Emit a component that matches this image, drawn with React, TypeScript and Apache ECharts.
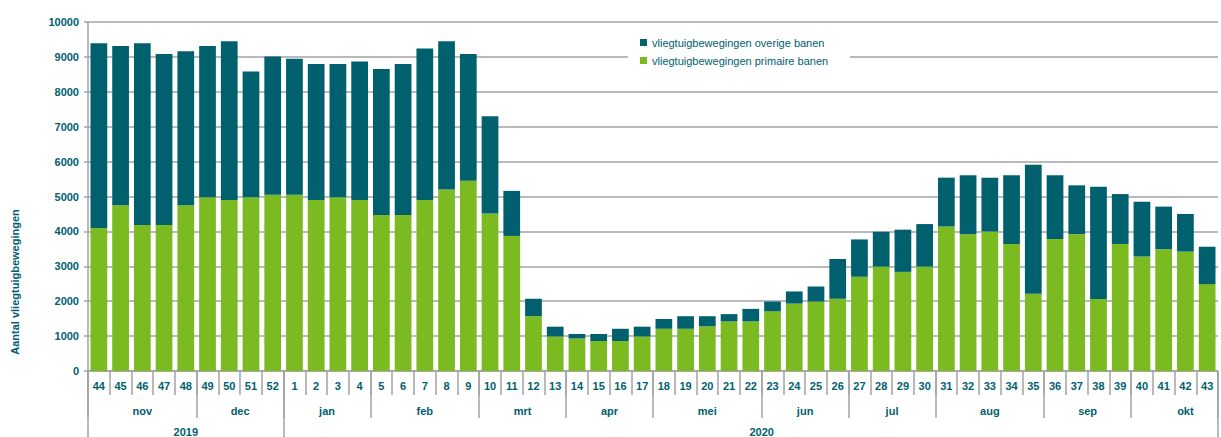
import React, { useEffect, useRef } from "react";
import * as echarts from "echarts";

const weeks = [
  "44", "45", "46", "47", "48", "49", "50", "51", "52",
  "1", "2", "3", "4", "5", "6", "7", "8", "9", "10",
  "11", "12", "13", "14", "15", "16", "17", "18", "19", "20",
  "21", "22", "23", "24", "25", "26", "27", "28", "29", "30",
  "31", "32", "33", "34", "35", "36", "37", "38", "39", "40",
  "41", "42", "43",
];

const primaire = [
  4100, 4750, 4180, 4180, 4750, 4980, 4900, 4980, 5050,
  5050, 4900, 4980, 4900, 4470, 4470, 4900, 5200, 5450, 4510,
  3870, 1570, 990, 930, 860, 860, 990, 1210, 1210, 1280,
  1420, 1420, 1710, 1930, 1990, 2070, 2700, 2990, 2840, 2990,
  4140, 3920, 4000, 3640, 2210, 3780, 3920, 2060, 3640, 3280,
  3490, 3420, 2490,
];

const overige = [
  5290, 4560, 5210, 4900, 4410, 4330, 4550, 3600, 3960,
  3900, 3900, 3820, 3970, 4180, 4330, 4340, 4250, 3630, 2790,
  1290, 500, 280, 130, 200, 350, 280, 280, 360, 290,
  210, 360, 280, 350, 430, 1140, 1070, 1000, 1210, 1220,
  1400, 1690, 1540, 1970, 3700, 1830, 1400, 3220, 1430, 1570,
  1220, 1080, 1070,
];

const monthNames = ["nov", "dec", "jan", "feb", "mrt", "apr", "mei", "jun", "jul", "aug", "sep", "okt"];
const monthWeeks = [5, 4, 4, 5, 4, 4, 5, 4, 4, 5, 4, 5];

const yearNames = ["2019", "2020"];
const yearWeeks = [9, 44];

const yTicks = [0, 1000, 2000, 3000, 4000, 5000, 6000, 7000, 8000, 9000, 10000];

const seriesNames = ["vliegtuigbewegingen primaire banen", "vliegtuigbewegingen overige banen"];

const TEAL = "#00606E";
const GREEN = "#7BBB21";
const GRID = "#a3a3a3";
const FONT = "'Liberation Sans', Arial, sans-serif";

function buildSpans(names: string[], counts: number[]) {
  const centers: Record<string, string> = {};
  const starts: number[] = [];
  let s = 0;
  names.forEach((n, i) => {
    starts.push(s);
    centers[String(s + counts[i] / 2)] = n;
    s += counts[i];
  });
  return { centers, starts };
}

export default function App() {
  const ref = useRef<HTMLDivElement>(null);

  useEffect(() => {
    if (!ref.current) return;
    const chart = echarts.init(ref.current, null, { renderer: "svg" });
    const months = buildSpans(monthNames, monthWeeks);
    const years = buildSpans(yearNames, yearWeeks);
    const n = weeks.length;

    const labelStyle = { color: TEAL, fontFamily: FONT, fontWeight: "bold" as const, fontSize: 11 };

    const option: any = {
      animation: false,
      backgroundColor: "#ffffff",
      grid: { left: 88, top: 22, width: 1138, height: 349 },
      legend: {
        orient: "vertical",
        left: 628,
        top: 29,
        data: [seriesNames[1], seriesNames[0]],
        itemWidth: 7,
        itemHeight: 7,
        itemGap: 7,
        backgroundColor: "#ffffff",
        padding: [8, 22, 8, 12],
        icon: "rect",
        textStyle: { color: TEAL, fontFamily: FONT, fontSize: 11 },
      },
      xAxis: [
        {
          type: "category",
          data: weeks,
          position: "bottom",
          axisLine: { show: true, lineStyle: { color: GRID, width: 1.5 } },
          axisTick: { show: true, interval: 0, length: 24, lineStyle: { color: GRID, width: 1.5 } },
          axisLabel: { ...labelStyle, interval: 0, margin: 9 },
          splitLine: { show: false },
        },
        {
          type: "category",
          data: weeks,
          position: "bottom",
          axisLine: { show: false },
          axisTick: {
            show: true,
            length: 47,
            interval: (i: number) => months.starts.indexOf(i) >= 0,
            lineStyle: { color: GRID, width: 1.5 },
          },
          axisLabel: { show: false },
        },
        {
          type: "value",
          min: 0,
          max: n,
          interval: 0.5,
          position: "bottom",
          axisLine: { show: false },
          axisTick: { show: false },
          splitLine: { show: false },
          axisLabel: {
            ...labelStyle,
            margin: 34,
            showMinLabel: true,
            showMaxLabel: true,
            formatter: (v: number) => months.centers[String(v)] || "",
          },
        },
        {
          type: "category",
          data: weeks,
          position: "bottom",
          axisLine: { show: false },
          axisTick: {
            show: true,
            length: 70,
            interval: (i: number) => years.starts.indexOf(i) >= 0,
            lineStyle: { color: GRID, width: 1.5 },
          },
          axisLabel: { show: false },
        },
        {
          type: "value",
          min: 0,
          max: n,
          interval: 0.5,
          position: "bottom",
          axisLine: { show: false },
          axisTick: { show: false },
          splitLine: { show: false },
          axisLabel: {
            ...labelStyle,
            margin: 55,
            formatter: (v: number) => years.centers[String(v)] || "",
          },
        },
      ],
      yAxis: {
        type: "value",
        min: yTicks[0],
        max: yTicks[yTicks.length - 1],
        interval: yTicks[1] - yTicks[0],
        axisLine: { show: true, lineStyle: { color: GRID, width: 1.5 } },
        axisTick: { show: true, length: 4, lineStyle: { color: GRID, width: 1.5 } },
        axisLabel: { ...labelStyle, margin: 9, formatter: (v: number) => String(v) },
        splitLine: { show: true, lineStyle: { color: GRID, width: 1.5 } },
      },
      graphic: [
        {
          type: "text",
          x: 15,
          y: 282,
          rotation: Math.PI / 2,
          style: {
            text: "Aantal vliegtuigbewegingen",
            fill: TEAL,
            font: `bold 11px ${FONT}`,
            align: "center",
            verticalAlign: "middle",
          },
        },
      ],
      series: [
        {
          name: seriesNames[0],
          type: "bar",
          stack: "total",
          xAxisIndex: 0,
          data: primaire,
          barCategoryGap: "23%",
          itemStyle: { color: GREEN },
        },
        {
          name: seriesNames[1],
          type: "bar",
          stack: "total",
          xAxisIndex: 0,
          data: overige,
          barCategoryGap: "23%",
          itemStyle: { color: TEAL },
        },
      ],
    };
    chart.setOption(option);
    return () => chart.dispose();
  }, []);

  return (
    <div
      ref={ref}
      style={{ position: "fixed", left: 0, top: 0, width: 1221, height: 437, background: "#fff" }}
    />
  );
}
